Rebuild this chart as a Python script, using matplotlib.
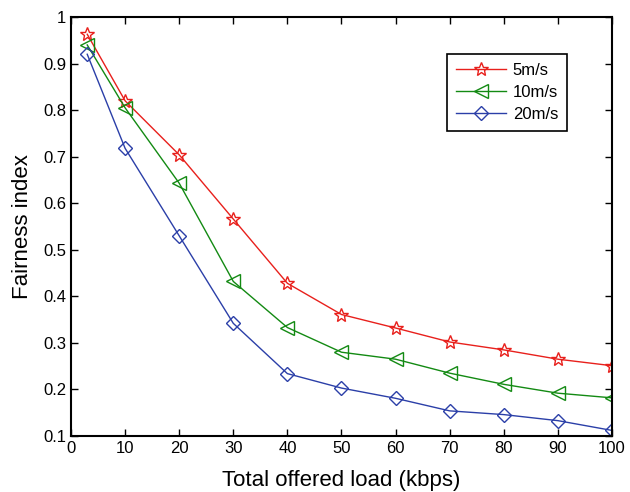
import matplotlib
matplotlib.use("Agg")
import matplotlib.pyplot as plt

plt.rcParams['font.family'] = ['Liberation Sans', 'DejaVu Sans']

load = [3, 10, 20, 30, 40, 50, 60, 70, 80, 90, 100]
speed_5 = [0.963, 0.820, 0.704, 0.566, 0.428, 0.361, 0.332, 0.302, 0.285, 0.265, 0.251]
speed_10 = [0.940, 0.805, 0.643, 0.432, 0.333, 0.280, 0.265, 0.235, 0.211, 0.192, 0.182]
speed_20 = [0.920, 0.718, 0.530, 0.342, 0.234, 0.203, 0.181, 0.154, 0.146, 0.133, 0.112]
labels = ['5m/s', '10m/s', '20m/s']

fig = plt.figure(figsize=(6.3, 4.92), dpi=100)
ax = fig.add_axes([0.1127, 0.1138, 0.8587, 0.8516])

ax.plot(load, speed_5, color='#e8201c', marker='*', markersize=10, markerfacecolor='none',
        markeredgewidth=1.0, linewidth=1.0, label=labels[0])
ax.plot(load, speed_10, color='#138a13', marker='<', markersize=10, markerfacecolor='none',
        markeredgewidth=1.0, linewidth=1.0, label=labels[1])
ax.plot(load, speed_20, color='#2b3fa8', marker='D', markersize=7, markerfacecolor='none',
        markeredgewidth=1.0, linewidth=1.0, label=labels[2])

ax.set_xlim(0, 100)
ax.set_ylim(0.1, 1.0)
ax.set_xticks(range(0, 101, 10))
ax.set_yticks([0.1, 0.2, 0.3, 0.4, 0.5, 0.6, 0.7, 0.8, 0.9, 1.0])
ax.set_yticklabels(['0.1', '0.2', '0.3', '0.4', '0.5', '0.6', '0.7', '0.8', '0.9', '1'])
ax.tick_params(direction='in', top=True, right=True, labelsize=12, length=5, width=1)
for s in ax.spines.values():
    s.set_linewidth(1.5)

ax.set_xlabel('Total offered load (kbps)', fontsize=16, labelpad=10)
ax.set_ylabel('Fairness index', fontsize=16, labelpad=7)

leg = ax.legend(loc='upper left', bbox_to_anchor=(0.695, 0.912), borderaxespad=0,
                fontsize=12, fancybox=False, edgecolor='black', framealpha=1,
                handlelength=3.0, handletextpad=0.4, borderpad=0.55, labelspacing=0.42)
leg.get_frame().set_linewidth(1.2)

fig.savefig('out.png', dpi=100)
